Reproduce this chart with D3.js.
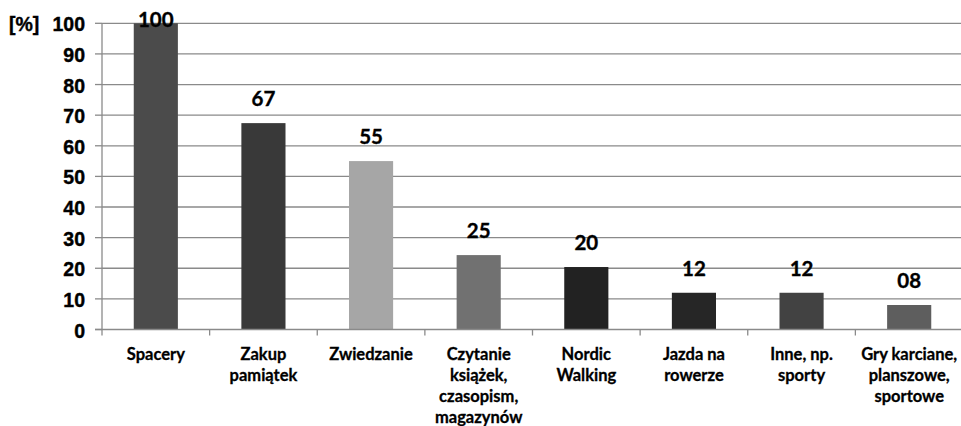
<!DOCTYPE html>
<html lang="pl">
<head>
    <meta charset="UTF-8">
    <title>Formy spędzania czasu</title>
    <script src="https://d3js.org/d3.v7.min.js"></script>
    <style>
        body {
            margin: 0;
            background: #fff;
        }

        .grid line {
            stroke: #8a8a8a;
            stroke-width: 1.3px;
        }

        .y-tick text, .unit {
            font: bold 19.5px "Liberation Sans", Arial, sans-serif;
            fill: #000;
            stroke: #000;
            stroke-width: 0.4px;
        }

        .value-label {
            font: bold 20.5px Lato, "Open Sans", sans-serif;
            fill: #000;
            stroke: #000;
            stroke-width: 0.35px;
        }

        .cat-label {
            font: bold 16.5px Lato, "Open Sans", sans-serif;
            fill: #000;
            stroke: #000;
            stroke-width: 0.3px;
        }
    </style>
</head>
<body>
    <div id="chart"></div>

    <script>
        // chart data
        const categories = [
            ["Spacery"],
            ["Zakup", "pamiątek"],
            ["Zwiedzanie"],
            ["Czytanie", "książek,", "czasopism,", "magazynów"],
            ["Nordic", "Walking"],
            ["Jazda na", "rowerze"],
            ["Inne, np.", "sporty"],
            ["Gry karciane,", "planszowe,", "sportowe"]
        ];
        const values = [100, 67.4, 55, 24.3, 20.4, 12, 12, 8];
        const valueLabels = ["100", "67", "55", "25", "20", "12", "12", "08"];
        const barColors = ["#4b4b4b", "#393939", "#a6a6a6", "#717171", "#222222", "#262626", "#424242", "#5e5e5e"];
        const yTicks = [0, 10, 20, 30, 40, 50, 60, 70, 80, 90, 100];

        const width = 961, height = 426;
        const plot = {left: 102, right: 963, top: 23.3, bottom: 329.5};

        const svg = d3.select("#chart")
            .append("svg")
            .attr("width", width)
            .attr("height", height);

        const x = d3.scaleBand()
            .domain(d3.range(categories.length))
            .range([plot.left, plot.right])
            .paddingInner(0.59)
            .paddingOuter(0.295);

        const y = d3.scaleLinear()
            .domain([0, 100])
            .range([plot.bottom, plot.top]);

        // horizontal grid lines
        svg.append("g")
            .attr("class", "grid")
            .selectAll("line")
            .data(yTicks.filter(d => d > 0))
            .enter()
            .append("line")
            .attr("x1", plot.left)
            .attr("x2", width)
            .attr("y1", d => y(d))
            .attr("y2", d => y(d));

        // bars
        svg.selectAll(".bar")
            .data(values)
            .enter()
            .append("rect")
            .attr("class", "bar")
            .attr("x", (d, i) => x(i))
            .attr("width", x.bandwidth())
            .attr("y", d => y(d))
            .attr("height", d => y(0) - y(d))
            .attr("fill", (d, i) => barColors[i]);

        // axes lines + ticks
        const axisColor = "#8a8a8a";
        svg.append("line")
            .attr("x1", plot.left).attr("x2", plot.left)
            .attr("y1", plot.top).attr("y2", plot.bottom)
            .attr("stroke", axisColor).attr("stroke-width", 1.3);
        svg.append("line")
            .attr("x1", plot.left - 7).attr("x2", width)
            .attr("y1", plot.bottom).attr("y2", plot.bottom)
            .attr("stroke", axisColor).attr("stroke-width", 1.3);

        const yTick = svg.selectAll(".y-tick")
            .data(yTicks)
            .enter()
            .append("g")
            .attr("class", "y-tick")
            .attr("transform", d => `translate(0,${y(d)})`);
        yTick.append("line")
            .attr("x1", plot.left - 7).attr("x2", plot.left)
            .attr("stroke", axisColor).attr("stroke-width", 1.3);
        yTick.append("text")
            .attr("x", 85)
            .attr("dy", 8)
            .attr("text-anchor", "end")
            .text(d => d);

        svg.append("text")
            .attr("class", "unit")
            .attr("x", 9)
            .attr("y", y(100) + 8)
            .text("[%]");

        // x ticks between categories
        const step = x.step();
        svg.selectAll(".x-tick")
            .data(d3.range(categories.length + 1))
            .enter()
            .append("line")
            .attr("x1", i => plot.left + i * step)
            .attr("x2", i => plot.left + i * step)
            .attr("y1", plot.bottom)
            .attr("y2", plot.bottom + 6)
            .attr("stroke", axisColor).attr("stroke-width", 1.3);

        // value labels
        svg.selectAll(".value-label")
            .data(values)
            .enter()
            .append("text")
            .attr("class", "value-label")
            .attr("x", (d, i) => x(i) + x.bandwidth() / 2)
            .attr("y", d => Math.max(y(d) - 17, plot.top + 4))
            .attr("text-anchor", "middle")
            .text((d, i) => valueLabels[i]);

        // category labels
        const cat = svg.selectAll(".cat-label")
            .data(categories)
            .enter()
            .append("text")
            .attr("class", "cat-label")
            .attr("text-anchor", "middle")
            .attr("x", (d, i) => x(i) + x.bandwidth() / 2)
            .attr("y", 360);
        cat.selectAll("tspan")
            .data(d => d)
            .enter()
            .append("tspan")
            .attr("x", function () { return d3.select(this.parentNode).attr("x"); })
            .attr("dy", (d, i) => i === 0 ? 0 : 21)
            .text(d => d);
    </script>
</body>
</html>
